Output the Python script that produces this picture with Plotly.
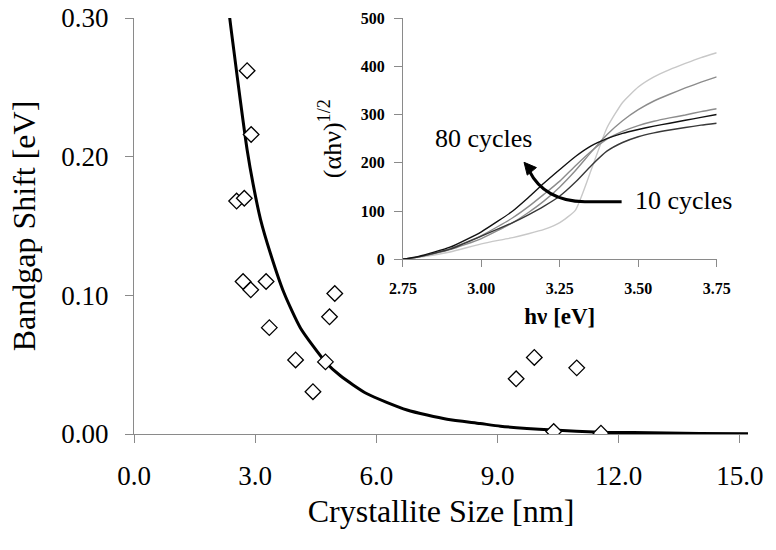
import plotly.graph_objects as go

# ---- main chart data ----
size_nm = [2.80, 2.90, 2.54, 2.73, 2.70, 2.89, 3.27, 3.35, 4.00, 4.43, 4.74, 4.84, 4.97, 9.46, 9.91, 10.96, 10.39, 11.56]
shift_ev = [0.262, 0.216, 0.168, 0.170, 0.110, 0.104, 0.110, 0.0767, 0.0534, 0.0305, 0.052, 0.0845, 0.1013, 0.0398, 0.0552, 0.0477, 0.0018, 0.0006]

fit_x = [2.30, 2.35, 2.47, 2.63, 2.80, 2.95, 3.13, 3.38, 3.71, 4.12, 4.74, 5.11, 5.77, 6.76, 7.75, 8.57, 9.07, 10.38, 11.54, 12.36, 14.0, 15.2]
fit_y = [0.325, 0.305, 0.277, 0.241, 0.205, 0.180, 0.155, 0.130, 0.102, 0.0765, 0.052, 0.042, 0.029, 0.0173, 0.0106, 0.0076, 0.0056, 0.0029, 0.0013, 0.0010, 0.0004, 0.0002]

x_ticks = [0, 3, 6, 9, 12, 15]
x_tick_text = ["0.0", "3.0", "6.0", "9.0", "12.0", "15.0"]
y_ticks = [0, 0.1, 0.2, 0.3]
y_tick_text = ["0.00", "0.10", "0.20", "0.30"]

# ---- inset data ----
hv = [2.75, 2.80, 2.90, 3.00, 3.10, 3.15, 3.20, 3.25, 3.30, 3.35, 3.40, 3.45, 3.50, 3.55, 3.60, 3.65, 3.70, 3.75]
c80 = [0, 6, 25, 57, 100, 128, 158, 186, 213, 235, 250, 261, 269, 276, 282, 288, 294, 300]
cB = [0, 5, 22, 49, 86, 109, 135, 162, 194, 224, 249, 265, 277, 286, 293, 299, 306, 312]
cC = [0, 5, 20, 43, 76, 97, 121, 150, 184, 222, 258, 287, 310, 328, 342, 355, 367, 378]
cD = [0, 5, 21, 48, 76, 92, 110, 131, 160, 194, 224, 242, 254, 262, 268, 273, 278, 282]
c10 = [0, 4, 15, 32, 45, 53, 62, 76, 102, 185, 272, 325, 357, 378, 393, 406, 418, 428]
inset_x_ticks = [2.75, 3.00, 3.25, 3.50, 3.75]
inset_x_text = ["2.75", "3.00", "3.25", "3.50", "3.75"]
inset_y_ticks = [0, 100, 200, 300, 400, 500]

SERIF = "Liberation Serif"

fig = go.Figure()

fig.add_trace(go.Scatter(x=fit_x, y=fit_y, mode="lines",
                         line=dict(color="black", width=3, shape="spline", smoothing=0.6),
                         showlegend=False, hoverinfo="skip"))
fig.add_trace(go.Scatter(x=size_nm, y=shift_ev, mode="markers",
                         marker=dict(symbol="diamond", size=12, color="white",
                                     line=dict(color="black", width=1.3)),
                         showlegend=False))

inset_series = [(c10, "#c8c8c8"), (cC, "#8c8c8c"), (cB, "#8c8c8c"), (cD, "#383838"), (c80, "#111111")]
for ys, col in inset_series:
    fig.add_trace(go.Scatter(x=hv, y=ys, mode="lines", xaxis="x2", yaxis="y2",
                             line=dict(color=col, width=1.4, shape="spline", smoothing=0.5),
                             showlegend=False))

axis_grey = "#8a8a8a"
fig.update_layout(
    width=776, height=550,
    margin=dict(l=134, r=28, t=18, b=116),
    paper_bgcolor="white", plot_bgcolor="white",
    font=dict(family=SERIF, color="black"),
    xaxis=dict(range=[0, 15.2], tickvals=x_ticks, ticktext=x_tick_text, automargin=False,
               showgrid=False, zeroline=False, showline=True, linecolor=axis_grey, linewidth=1,
               ticks="outside", ticklen=8, tickcolor=axis_grey, ticklabelstandoff=10,
               ticklabeloverflow="allow",
               tickfont=dict(size=27, family=SERIF),
               title=dict(text="Crystallite Size [nm]", font=dict(size=32, family=SERIF), standoff=9)),
    yaxis=dict(range=[0, 0.30], tickvals=y_ticks, ticktext=y_tick_text, automargin=False,
               showgrid=False, zeroline=False, showline=True, linecolor=axis_grey, linewidth=1,
               ticks="outside", ticklen=8, tickcolor=axis_grey, ticklabelstandoff=11,
               ticklabeloverflow="allow",
               tickfont=dict(size=27, family=SERIF),
               title=dict(text="Bandgap Shift [eV]", font=dict(size=32, family=SERIF), standoff=16)),
    xaxis2=dict(domain=[0.438, 0.949], anchor="y2", range=[2.75, 3.75], automargin=False,
                tickvals=inset_x_ticks, ticktext=inset_x_text,
                showgrid=False, zeroline=False, showline=True, linecolor=axis_grey, linewidth=1,
                ticks="outside", ticklen=7, tickcolor=axis_grey, ticklabelstandoff=8,
                ticklabeloverflow="allow",
                tickfont=dict(size=16, family=SERIF, weight="bold"),
                title=dict(text="hν [eV]", font=dict(size=23, family=SERIF, weight="bold"), standoff=11)),
    yaxis2=dict(domain=[0.42, 1.0], anchor="x2", range=[0, 500], automargin=False,
                tickvals=inset_y_ticks,
                showgrid=False, zeroline=False, showline=True, linecolor=axis_grey, linewidth=1,
                ticks="outside", ticklen=8, tickcolor=axis_grey, ticklabelstandoff=6,
                ticklabeloverflow="allow",
                tickfont=dict(size=16, family=SERIF, weight="bold"),
                title=dict(text="(αhν)<sup>1/2</sup>", font=dict(size=26, family=SERIF), standoff=11)),
)

# curved arrow (10 cycles -> 80 cycles)
fig.add_shape(type="path", xref="x2", yref="y2",
              path="M 3.447,119 L 3.33,119 Q 3.20,121 3.152,184",
              line=dict(color="black", width=3))
fig.add_shape(type="path", xref="x2", yref="y2",
              path="M 3.136,201 L 3.1755,190 L 3.1462,174.4 Z",
              line=dict(color="black", width=1), fillcolor="black")
fig.add_annotation(x=3.483, y=122, xref="x2", yref="y2", text="10 cycles", showarrow=False,
                   xanchor="left", yanchor="middle", font=dict(size=26, family=SERIF))
fig.add_annotation(x=2.846, y=250, xref="x2", yref="y2", text="80 cycles", showarrow=False,
                   xanchor="left", yanchor="middle", font=dict(size=26, family=SERIF))

fig.write_html("out.html", config={"displayModeBar": False},
               post_script="document.body.style.margin='0';")
